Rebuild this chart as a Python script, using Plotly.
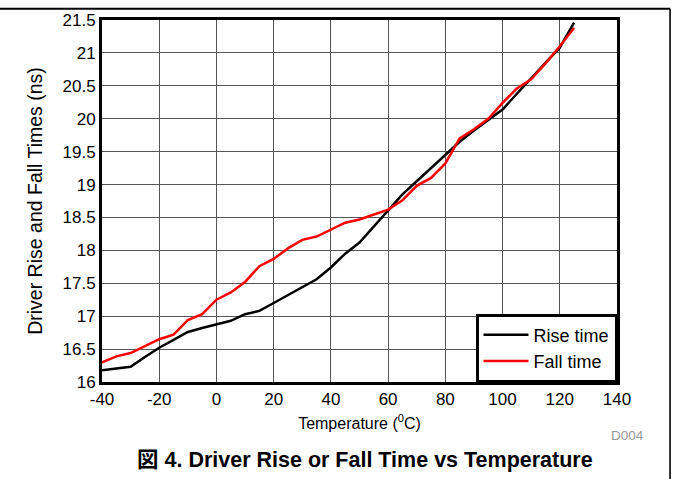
import plotly.graph_objects as go

temps = [-40, -35, -30, -25, -20, -15, -10, -5, 0, 5, 10, 15, 20, 25, 30, 35, 40, 45,
         50, 55, 60, 65, 70, 75, 80, 85, 90, 95, 100, 105, 110, 115, 120, 125]
rise_time = [16.18, 16.20, 16.23, 16.38, 16.52, 16.64, 16.76, 16.82, 16.87, 16.93, 17.03,
             17.08, 17.20, 17.32, 17.44, 17.56, 17.74, 17.95, 18.12, 18.36, 18.60, 18.85,
             19.05, 19.25, 19.45, 19.65, 19.82, 19.98, 20.14, 20.38, 20.62, 20.85, 21.08, 21.46]
fall_time = [16.30, 16.39, 16.44, 16.55, 16.65, 16.72, 16.94, 17.03, 17.25, 17.36, 17.52,
             17.76, 17.87, 18.03, 18.16, 18.21, 18.31, 18.42, 18.47, 18.54, 18.62, 18.76,
             18.98, 19.10, 19.32, 19.70, 19.84, 20.00, 20.24, 20.46, 20.60, 20.84, 21.10, 21.38]

x_tickvals = [-40, -20, 0, 20, 40, 60, 80, 100, 120, 140]
x_ticktext = ["-40", "-20", "0", "20", "40", "60", "80", "100", "120", "140"]
y_tickvals = [16, 16.5, 17, 17.5, 18, 18.5, 19, 19.5, 20, 20.5, 21, 21.5]
y_ticktext = ["16", "16.5", "17", "17.5", "18", "18.5", "19", "19.5", "20", "20.5", "21", "21.5"]

FONT = "Liberation Sans, Arial, Noto Sans CJK JP, sans-serif"

fig = go.Figure()
fig.add_trace(go.Scatter(x=temps, y=rise_time, mode="lines", name="Rise time",
                         line=dict(color="black", width=2.5)))
fig.add_trace(go.Scatter(x=temps, y=fall_time, mode="lines", name="Fall time",
                         line=dict(color="#ff0000", width=2.5)))

fig.update_layout(
    width=673, height=479,
    margin=dict(l=102, r=56, t=20, b=97),
    paper_bgcolor="white", plot_bgcolor="white",
    font=dict(family=FONT, size=16, color="black"),
    showlegend=True,
    legend=dict(x=1, y=0, xanchor="right", yanchor="bottom",
                bordercolor="black", borderwidth=2.5, bgcolor="white",
                font=dict(size=18), tracegroupgap=0,
                itemwidth=45),
    xaxis=dict(range=[-40, 140], tickvals=x_tickvals, ticktext=x_ticktext,
               showgrid=True, gridcolor="#555555", gridwidth=1.3,
               showline=True, linecolor="black", linewidth=3, mirror=True,
               zeroline=False, ticks="", ticklen=0, automargin=False,
               tickfont=dict(size=17),
               title=dict(text="Temperature (<sup>0</sup>C)", font=dict(size=16), standoff=10)),
    yaxis=dict(range=[16, 21.5], tickvals=y_tickvals, ticktext=y_ticktext,
               showgrid=True, gridcolor="#555555", gridwidth=1.3,
               showline=True, linecolor="black", linewidth=3, mirror=True,
               zeroline=False, ticks="", ticklen=0, automargin=False,
               tickfont=dict(size=17),
               title=dict(text="Driver Rise and Fall Times (ns)", font=dict(size=19.5), standoff=15)),
    shapes=[
        dict(type="line", xref="paper", yref="paper", x0=-0.25, x1=1.103, y0=1.031, y1=1.031,
             line=dict(color="black", width=2), layer="above"),
        dict(type="line", xref="paper", yref="paper", x0=1.103, x1=1.103, y0=1.031, y1=-0.35,
             line=dict(color="black", width=1.6), layer="above"),
    ],
    annotations=[
        dict(text="D004", xref="paper", yref="paper", x=1.021, y=-0.149,
             xanchor="center", yanchor="middle", showarrow=False,
             font=dict(size=13.5, color="#999999")),
        dict(text="<b>図 4. Driver Rise or Fall Time vs Temperature</b>", xref="paper", yref="paper",
             x=0.51, y=-0.215, xanchor="center", yanchor="middle", showarrow=False,
             font=dict(size=21.5, color="black")),
    ],
)

fig.write_html("out.html", config={"displayModeBar": False},
               post_script="document.body.style.margin='0';")
